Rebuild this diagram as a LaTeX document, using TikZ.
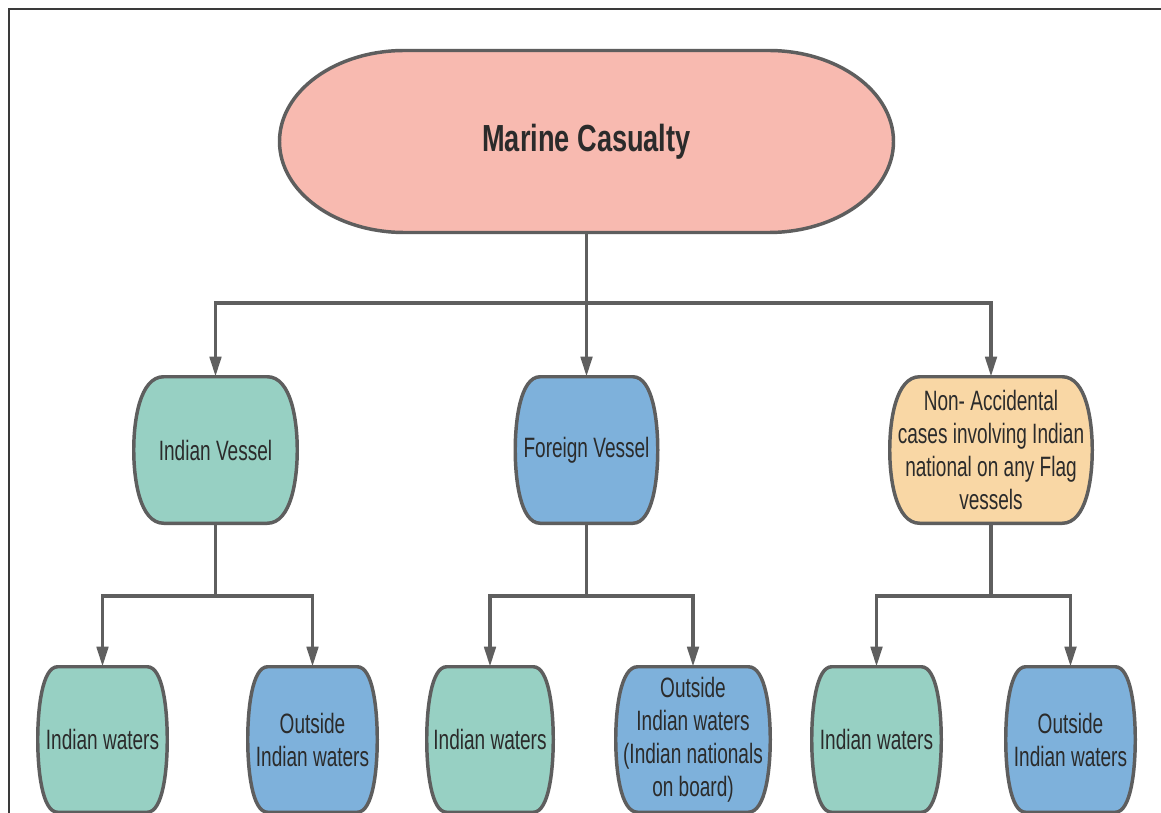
\documentclass[tikz,border=0pt]{standalone}
\usepackage{fontspec}
\setmainfont{Liberation Sans}
\newfontfamily\nfont[FakeStretch=0.68]{Liberation Sans}
\newfontfamily\tfont[FakeStretch=0.72]{Liberation Sans}
\usetikzlibrary{calc,arrows.meta,backgrounds}
\definecolor{cteal}{HTML}{97D0C3}
\definecolor{cblue}{HTML}{7EB1DB}
\definecolor{corange}{HTML}{F9D7A5}
\definecolor{cpink}{HTML}{F8BAB0}
\definecolor{cstroke}{HTML}{5E5E5E}
\definecolor{cline}{HTML}{5F5F5F}
\definecolor{ctext}{HTML}{2B2B2B}
\definecolor{cframe}{HTML}{3A3A3A}
\tikzset{
  box/.style 2 args={rectangle, draw=none, inner sep=0pt, align=center, text=ctext,
     font=\nfont\fontsize{21pt}{24.75pt}\selectfont,
     minimum width={#1*0.75pt}, minimum height={#2*0.75pt}},
  shapeline/.style={draw=cstroke, line width=2.6pt, line join=round},
  conn/.style={draw=cline, line width=2.7pt},
  arr/.style={conn, -{Triangle[length=15pt,width=8.5pt]}},
}
\newcommand\barrelshape[3]{%
  \path[shapeline, fill=#3]
    ($(#1.north west)+(#2,0)$) -- ($(#1.north east)+(-#2,0)$)
    .. controls ($(#1.north east)+(-0.2*#2,0)$) and ($(#1.north east)!0.3!(#1.south east)$) .. (#1.east)
    .. controls ($(#1.south east)!0.3!(#1.north east)$) and ($(#1.south east)+(-0.2*#2,0)$) .. ($(#1.south east)+(-#2,0)$)
    -- ($(#1.south west)+(#2,0)$)
    .. controls ($(#1.south west)+(0.2*#2,0)$) and ($(#1.south west)!0.3!(#1.north west)$) .. (#1.west)
    .. controls ($(#1.north west)!0.3!(#1.south west)$) and ($(#1.north west)+(0.2*#2,0)$) .. cycle;
}
\begin{document}
\begin{tikzpicture}[x=0.75pt,y=-0.75pt]
\useasboundingbox (0,0) rectangle (1161,813);

% nodes
\node[box={614}{182}, font=\tfont\bfseries\fontsize{28.3pt}{34pt}\selectfont] (top) at (586.5,141.5) {Marine Casualty};

\node[box={163}{146}] (iv) at (215.5,450) {Indian Vessel};
\node[box={142}{146}] (fv) at (586.5,450) {Foreign Vessel};
\node[box={202}{146}] (na) at (991,450) {Non- Accidental\\cases involving Indian\\national on any Flag\\vessels};

\node[box={129}{145}] (w1) at (102.5,739.5) {Indian waters};
\node[box={129}{145}] (o1) at (312.5,739.5) {Outside\\Indian waters};
\node[box={126}{145}] (w2) at (490,739.5) {Indian waters};
\node[box={154}{145}] (o2) at (693,739.5) {Outside\\Indian waters\\(Indian nationals\\on board)};
\node[box={129}{145}] (w3) at (876.5,739.5) {Indian waters};
\node[box={129}{145}] (o3) at (1070.5,739.5) {Outside\\Indian waters};

\begin{scope}[on background layer]
  \fill[white] (0,0) rectangle (1161,813);
  \draw[cframe, line width=1.5pt] (1161,9) -- (9,9) -- (9,813);
  \path[shapeline, fill=cpink] (404.5,50.5) -- (768.5,50.5)
     arc[start angle=90, end angle=-90, x radius=93.75pt, y radius=68.25pt]
     -- (404.5,232.5)
     arc[start angle=270, end angle=90, x radius=93.75pt, y radius=68.25pt] -- cycle;
  \barrelshape{iv}{30}{cteal}
  \barrelshape{fv}{25}{cblue}
  \barrelshape{na}{30}{corange}
  \barrelshape{w1}{20}{cteal}
  \barrelshape{o1}{20}{cblue}
  \barrelshape{w2}{20}{cteal}
  \barrelshape{o2}{22}{cblue}
  \barrelshape{w3}{20}{cteal}
  \barrelshape{o3}{20}{cblue}
\end{scope}

% connectors
\coordinate (j1) at (586.5,303);
\coordinate (j2) at (215.5,596);
\coordinate (j3) at (586.5,596);
\coordinate (j4) at (991,596);

\draw[conn] (top.south) -- (j1);
\draw[arr] (j1) -| (iv.north);
\draw[arr] (j1) -- (fv.north);
\draw[arr] (j1) -| (na.north);

\draw[conn] (iv.south) -- (j2);
\draw[arr] (j2) -| (w1.north);
\draw[arr] (j2) -| (o1.north);

\draw[conn] (fv.south) -- (j3);
\draw[arr] (j3) -| (w2.north);
\draw[arr] (j3) -| (o2.north);

\draw[conn] (na.south) -- (j4);
\draw[arr] (j4) -| (w3.north);
\draw[arr] (j4) -| (o3.north);
\end{tikzpicture}
\end{document}
